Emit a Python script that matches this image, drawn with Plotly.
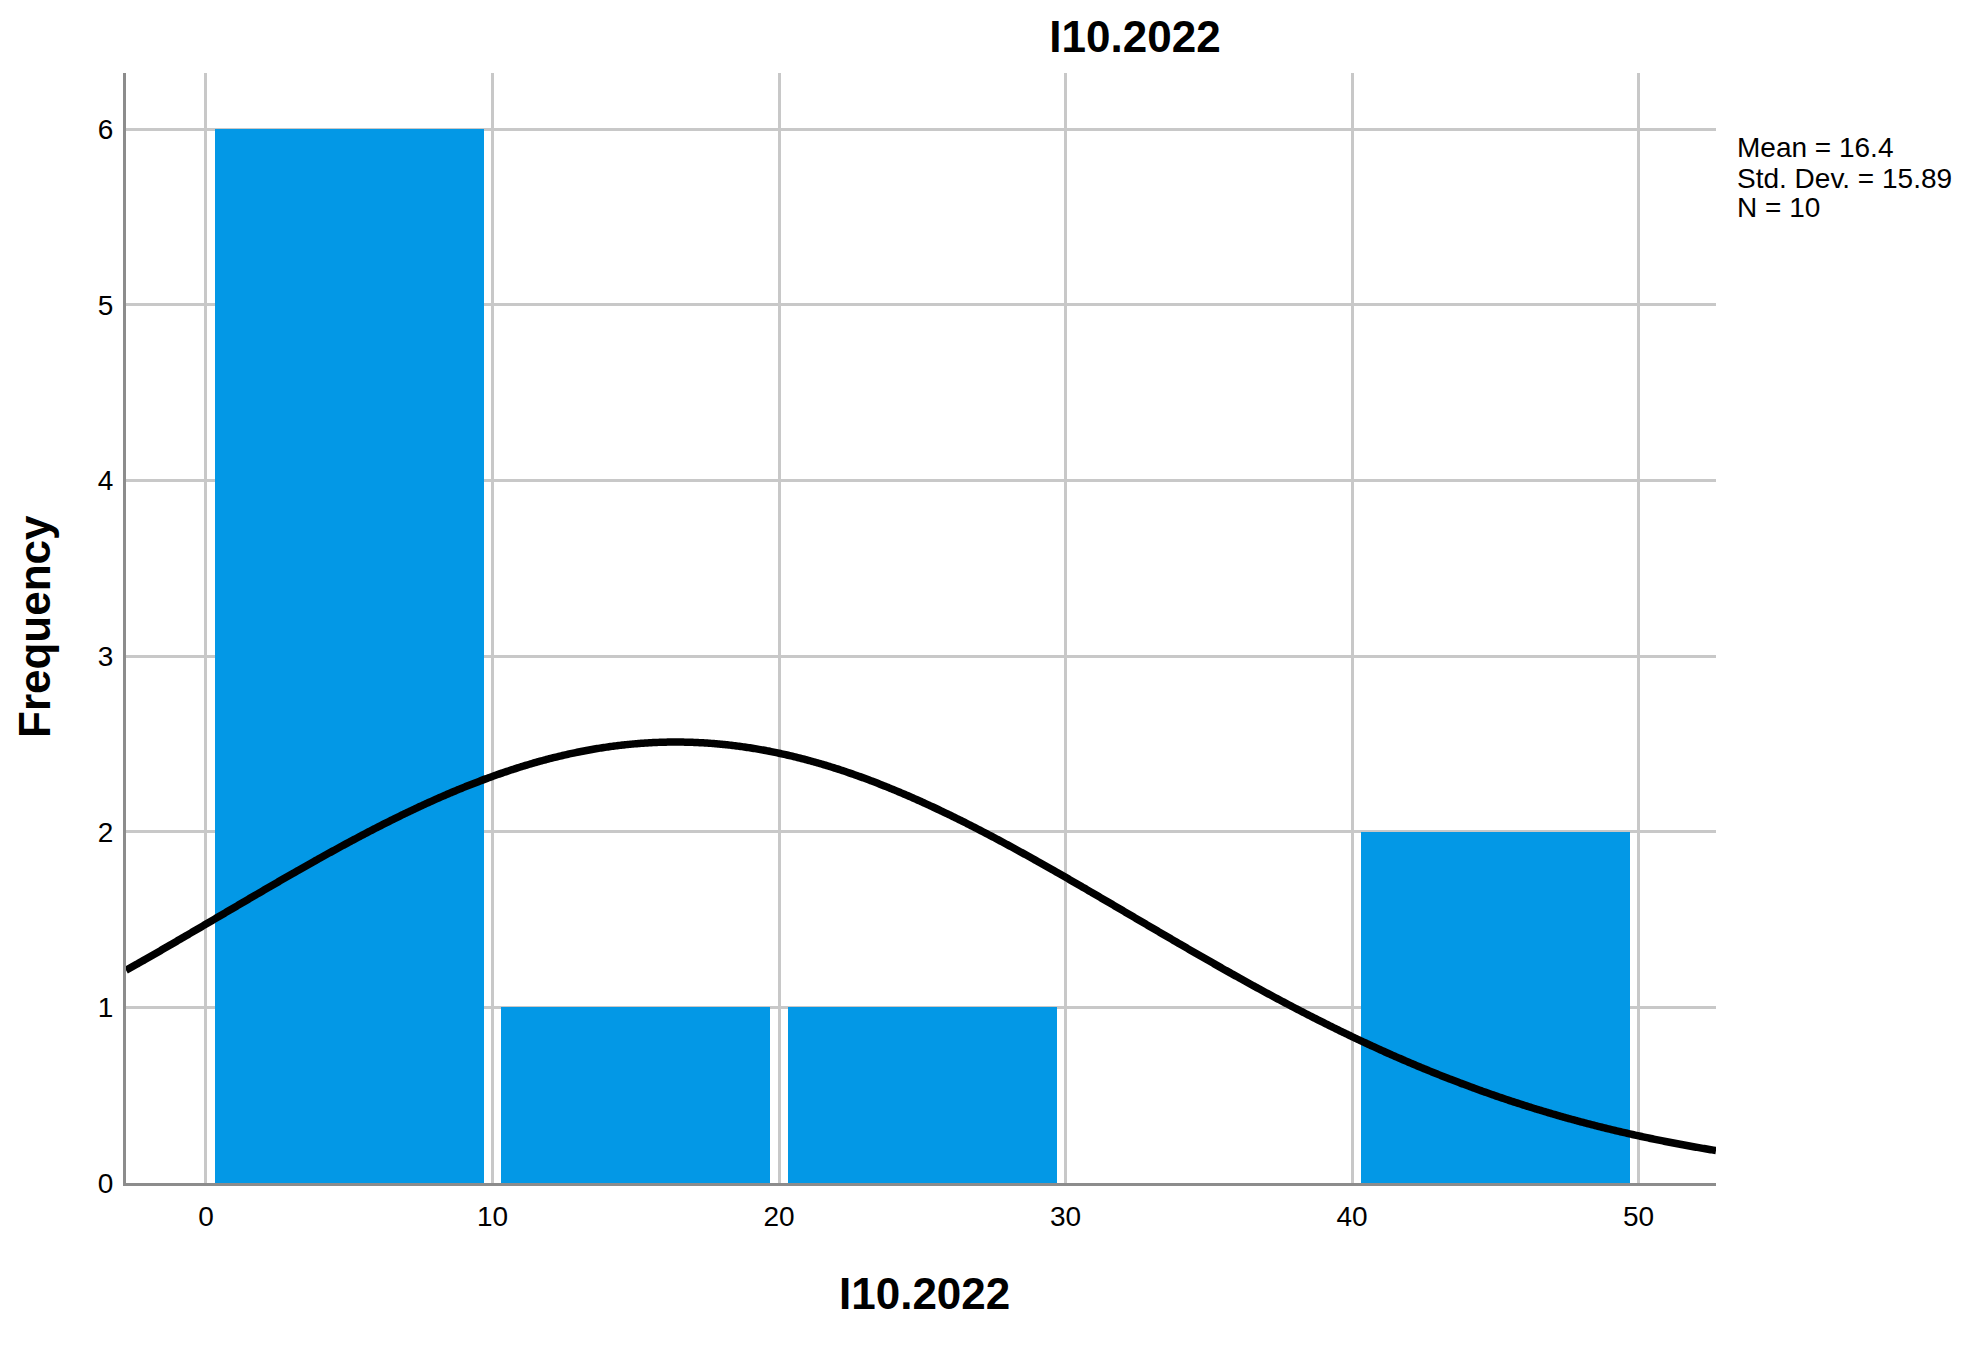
import numpy as np
import plotly.graph_objects as go

# Histogram data (bin centres, counts)
bin_centers = [5, 15, 25, 35, 45]
counts = [6, 1, 1, 0, 2]
bin_width = 10

# Summary statistics shown on the chart
mean = 16.4
std_dev = 15.89
n_obs = 10

x_ticks = [0, 10, 20, 30, 40, 50]
y_ticks = [0, 1, 2, 3, 4, 5, 6]

x_range = [-2.79, 52.7]
y_range = [0, 6.32]

# Normal curve scaled to frequency (as drawn by SPSS)
xc = np.linspace(x_range[0], x_range[1], 600)
yc = n_obs * bin_width / (std_dev * np.sqrt(2 * np.pi)) * np.exp(-0.5 * ((xc - mean) / std_dev) ** 2)

FONT = "Liberation Sans, Arial, sans-serif"
W, H = 1963, 1332  # page has an 8px body margin
PL, PT, PW, PH = 118, 65, 1590, 1110  # plot area in figure pixels

fig = go.Figure()
fig.add_trace(go.Bar(
    x=bin_centers, y=counts, width=9.4,
    marker=dict(color="#0398E6", line=dict(width=0)),
    hoverinfo="x+y", showlegend=False,
))
fig.add_trace(go.Scatter(
    x=xc, y=yc, mode="lines",
    line=dict(color="black", width=7.5, shape="spline"),
    hoverinfo="skip", showlegend=False,
))

fig.update_layout(
    width=W, height=H,
    margin=dict(l=PL, r=W - PL - PW, t=PT, b=H - PT - PH, autoexpand=False),
    paper_bgcolor="white", plot_bgcolor="white",
    font=dict(family=FONT, size=28, color="black"),
    title=dict(text="<b>I10.2022</b>", x=(1135 - 8) / W, xanchor="center",
               y=1 - (37 - 8) / H, yanchor="middle",
               font=dict(family=FONT, size=44, color="black")),
    bargap=0,
)
fig.update_xaxes(
    range=x_range, tickvals=x_ticks, ticktext=[str(v) for v in x_ticks],
    showgrid=True, gridcolor="#C8C8C8", gridwidth=2.5,
    showline=True, linecolor="#8C8C8C", linewidth=3,
    zeroline=False, ticks="", ticklabelstandoff=6,
    tickfont=dict(family=FONT, size=28, color="black"),
)
fig.update_yaxes(
    range=y_range, tickvals=y_ticks, ticktext=[str(v) for v in y_ticks],
    showgrid=True, gridcolor="#C8C8C8", gridwidth=2.5,
    showline=True, linecolor="#8C8C8C", linewidth=3,
    zeroline=False, ticks="", ticklabelstandoff=4,
    tickfont=dict(family=FONT, size=28, color="black"),
)

# axis titles (page pixel positions converted to paper coordinates)
def px(xp):
    return (xp - 8 - PL) / PW

def py(yp):
    return (PT + PH - (yp - 8)) / PH

fig.add_annotation(text="<b>I10.2022</b>", xref="paper", yref="paper",
                   x=px(924), y=py(1293),
                   xanchor="center", yanchor="middle", showarrow=False,
                   font=dict(family=FONT, size=44, color="black"))
fig.add_annotation(text="<b>Frequency</b>", xref="paper", yref="paper",
                   x=px(34), y=py(627),
                   xanchor="center", yanchor="middle", showarrow=False, textangle=-90,
                   font=dict(family=FONT, size=44, color="black"))

# statistics text
stats_lines = [f"Mean = {mean}", f"Std. Dev. = {std_dev}", f"N = {n_obs}"]
for i, line in enumerate(stats_lines):
    fig.add_annotation(text=line, xref="paper", yref="paper",
                       x=px(1735), y=py(148 + 30 * i),
                       xanchor="left", yanchor="middle", showarrow=False,
                       font=dict(family=FONT, size=28, color="black"))

fig.write_html("out.html")
